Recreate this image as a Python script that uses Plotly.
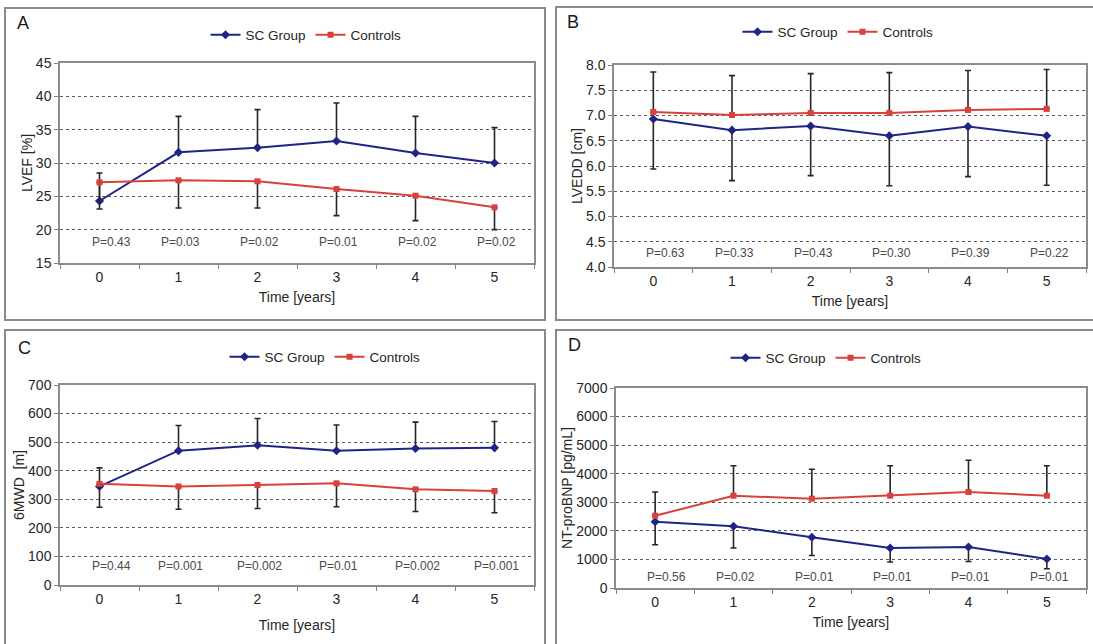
import plotly.graph_objects as go

W, H = 1093, 644

# ---------------- data ----------------
years = [0, 1, 2, 3, 4, 5]
year_labels = ["0", "1", "2", "3", "4", "5"]

# Panel A: LVEF [%]
lvef_sc = [24.3, 31.6, 32.3, 33.3, 31.5, 30.0]
lvef_sc_err = [4.2, 5.4, 5.7, 5.7, 5.5, 5.3]
lvef_ctrl = [27.1, 27.4, 27.25, 26.1, 25.1, 23.35]
lvef_ctrl_err = [4.0, 4.15, 4.0, 4.0, 3.75, 3.35]
lvef_p = ["P=0.43", "P=0.03", "P=0.02", "P=0.01", "P=0.02", "P=0.02"]

# Panel B: LVEDD [cm]
lvedd_sc = [6.93, 6.71, 6.79, 6.60, 6.78, 6.60]
lvedd_sc_err = [0.99, 1.0, 0.98, 0.99, 0.99, 0.98]
lvedd_ctrl = [7.07, 7.01, 7.05, 7.05, 7.11, 7.13]
lvedd_ctrl_err = [0.79, 0.78, 0.78, 0.8, 0.78, 0.78]
lvedd_p = ["P=0.63", "P=0.33", "P=0.43", "P=0.30", "P=0.39", "P=0.22"]

# Panel C: 6MWD [m]
mwd_sc = [345, 470, 489, 470, 478, 480]
mwd_sc_err = [65, 88, 94, 90, 92, 92]
mwd_ctrl = [354, 345, 350, 356, 335, 329]
mwd_ctrl_err = [82, 80, 82, 82, 78, 76]
mwd_p = ["P=0.44", "P=0.001", "P=0.002", "P=0.01", "P=0.002", "P=0.001"]

# Panel D: NT-proBNP [pg/mL]
bnp_sc = [2320, 2160, 1775, 1400, 1435, 1015]
bnp_sc_err = [805, 760, 640, 490, 510, 340]
bnp_ctrl = [2530, 3230, 3125, 3230, 3360, 3230]
bnp_ctrl_err = [830, 1050, 1030, 1050, 1110, 1050]
bnp_p = ["P=0.56", "P=0.02", "P=0.01", "P=0.01", "P=0.01", "P=0.01"]

# ---------------- style ----------------
FONT = "Arial, Liberation Sans, sans-serif"
SC_COLOR = "#1f2585"
CTRL_COLOR = "#d9413f"
ERR_COLOR = "#262626"
TXT = "#262626"


def px_x(v):
    return v / W


def px_y(v):
    return 1 - v / H


panels = [
    dict(ax="", leg="legend", box=(60, 534, 63, 263), sc=lvef_sc, sce=lvef_sc_err, scdir=1,
         ct=lvef_ctrl, cte=lvef_ctrl_err, ctdir=-1, p=lvef_p, py=18.1, yr=[15, 45], dt=5,
         fmt="", title="LVEF [%]", letter="A", lpos=(23, 23), legpos=(306, 35), xst=9),
    dict(ax="2", leg="legend2", box=(614, 1086, 65, 267), sc=lvedd_sc, sce=lvedd_sc_err, scdir=-1,
         ct=lvedd_ctrl, cte=lvedd_ctrl_err, ctdir=1, p=lvedd_p, py=4.27, yr=[4, 8], dt=0.5,
         fmt=".1f", title="LVEDD [cm]", letter="B", lpos=(573, 22), legpos=(838, 32), xst=9),
    dict(ax="3", leg="legend3", box=(60, 534, 385, 585), sc=mwd_sc, sce=mwd_sc_err, scdir=1,
         ct=mwd_ctrl, cte=mwd_ctrl_err, ctdir=-1, p=mwd_p, py=68, yr=[0, 700], dt=100,
         fmt="", title="6MWD  [m]", letter="C", lpos=(24, 348), legpos=(325, 357), xst=15),
    dict(ax="4", leg="legend4", box=(616, 1086, 388, 588), sc=bnp_sc, sce=bnp_sc_err, scdir=-1,
         ct=bnp_ctrl, cte=bnp_ctrl_err, ctdir=1, p=bnp_p, py=380, yr=[0, 7000], dt=1000,
         fmt="", title="NT-proBNP [pg/mL]", letter="D", lpos=(574, 345), legpos=(826, 358), xst=9),
]

fig = go.Figure()
annotations = []
shapes = []
layout_extra = {}

for i, pn in enumerate(panels):
    xa = "x" + pn["ax"]
    ya = "y" + pn["ax"]
    zeros = [0] * len(years)
    sc_up = pn["sce"] if pn["scdir"] > 0 else zeros
    sc_dn = zeros if pn["scdir"] > 0 else pn["sce"]
    ct_up = pn["cte"] if pn["ctdir"] > 0 else zeros
    ct_dn = zeros if pn["ctdir"] > 0 else pn["cte"]

    fig.add_trace(go.Scatter(
        x=years, y=pn["sc"], xaxis=xa, yaxis=ya, name="SC Group", legend=pn["leg"],
        mode="lines+markers",
        line=dict(color=SC_COLOR, width=2),
        marker=dict(symbol="diamond", size=7, color=SC_COLOR),
        error_y=dict(type="data", symmetric=False, array=sc_up, arrayminus=sc_dn,
                     color=ERR_COLOR, thickness=1.6, width=3),
    ))
    fig.add_trace(go.Scatter(
        x=years, y=pn["ct"], xaxis=xa, yaxis=ya, name="Controls", legend=pn["leg"],
        mode="lines+markers",
        line=dict(color=CTRL_COLOR, width=2),
        marker=dict(symbol="square", size=6, color=CTRL_COLOR),
        error_y=dict(type="data", symmetric=False, array=ct_up, arrayminus=ct_dn,
                     color=ERR_COLOR, thickness=1.6, width=3),
    ))

    x0, x1, yt, yb = pn["box"]
    xkey = "xaxis" + pn["ax"]
    ykey = "yaxis" + pn["ax"]
    layout_extra[xkey] = dict(
        domain=[px_x(x0), px_x(x1)], anchor=ya, range=[-0.5, 5.5],
        tickmode="array", tickvals=years, ticktext=year_labels, ticks="",
        minor=dict(tickmode="linear", tick0=-0.5, dtick=1, ticks="outside",
                   ticklen=4, tickcolor="#808080", tickwidth=1, showgrid=False),
        showgrid=False, zeroline=False, showline=True, mirror=True,
        linecolor="#8c8c8c", linewidth=1.5, automargin=False,
        tickfont=dict(family=FONT, size=14, color=TXT),
        title=dict(text="Time [years]", font=dict(family=FONT, size=14, color=TXT),
                   standoff=pn["xst"]),
        fixedrange=True,
    )
    layout_extra[ykey] = dict(
        domain=[px_y(yb), px_y(yt)], anchor=xa, range=pn["yr"],
        tickmode="linear", tick0=pn["yr"][0], dtick=pn["dt"], tickformat=pn["fmt"],
        ticks="outside", ticklen=4, tickcolor="#808080",
        showgrid=True, gridcolor="#5a5a5a", griddash="dot", gridwidth=1,
        zeroline=False, showline=True, mirror=True, linecolor="#8c8c8c", linewidth=1.5,
        automargin=False,
        tickfont=dict(family=FONT, size=14, color=TXT),
        title=dict(text=pn["title"], font=dict(family=FONT, size=14, color=TXT), standoff=0),
        fixedrange=True,
    )

    for j, ptxt in enumerate(pn["p"]):
        annotations.append(dict(
            x=years[j] + (0.15 if j == 0 else 0.03), y=pn["py"], xref=xa, yref=ya,
            text=ptxt, showarrow=False,
            font=dict(family=FONT, size=12, color="#4a4a4a"),
        ))

    lx, ly = pn["lpos"]
    annotations.append(dict(
        x=px_x(lx), y=px_y(ly), xref="paper", yref="paper", text=pn["letter"],
        xanchor="center", yanchor="middle",
        showarrow=False, font=dict(family=FONT, size=18, color="#1a1a1a"),
    ))

    gx, gy = pn["legpos"]
    layout_extra[pn["leg"]] = dict(
        orientation="h", x=px_x(gx), y=px_y(gy), xanchor="center", yanchor="middle",
        bgcolor="rgba(0,0,0,0)", font=dict(family=FONT, size=13.5, color=TXT),
        itemwidth=30, tracegroupgap=0,
    )

frames = [(5, 545, 8, 320), (556, 1097, 7, 320), (5, 545, 330, 650), (556, 1097, 330, 650)]
for (a, b, c, d) in frames:
    shapes.append(dict(type="rect", xref="paper", yref="paper",
                       x0=px_x(a), x1=px_x(b), y0=px_y(d), y1=px_y(c),
                       line=dict(color="#8a8a8a", width=2), fillcolor="rgba(0,0,0,0)",
                       layer="below"))

fig.update_layout(
    width=W, height=H, margin=dict(l=0, r=0, t=0, b=0, autoexpand=False),
    paper_bgcolor="white", plot_bgcolor="white",
    showlegend=True, annotations=annotations, shapes=shapes,
    font=dict(family=FONT, color=TXT),
    **layout_extra,
)

fig.write_html(
    "out.html",
    config={"responsive": False, "displayModeBar": False},
    post_script="document.body.style.margin='0';document.body.style.padding='0';"
                "document.body.style.overflow='hidden';",
)
